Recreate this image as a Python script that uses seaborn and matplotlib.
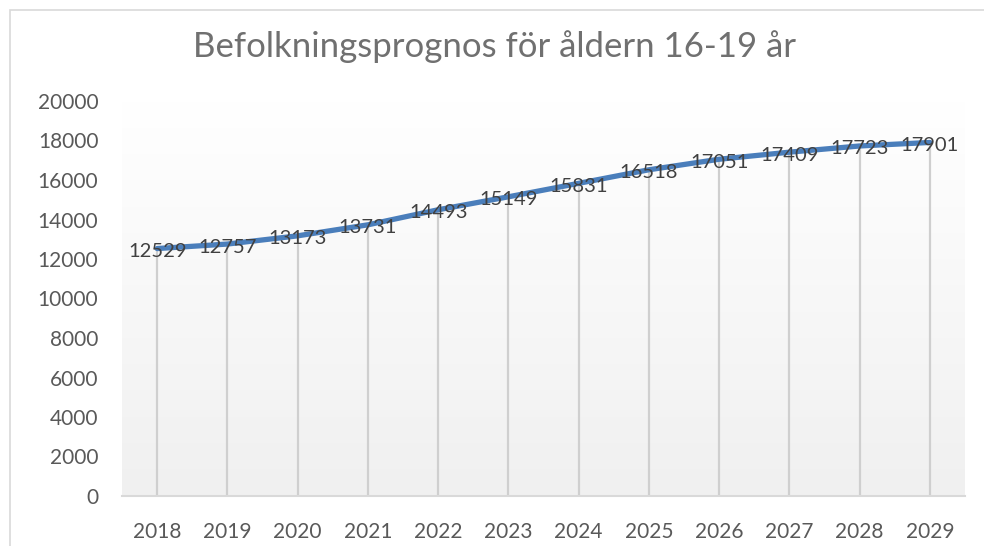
import numpy as np
import pandas as pd
import matplotlib
matplotlib.use("Agg")
import matplotlib.pyplot as plt
from matplotlib.patches import Rectangle
import seaborn as sns

# Chart data
years = ['2018', '2019', '2020', '2021', '2022', '2023',
         '2024', '2025', '2026', '2027', '2028', '2029']
population = [12529, 12757, 13173, 13731, 14493, 15149,
              15831, 16518, 17051, 17409, 17723, 17901]
y_ticks = [0, 2000, 4000, 6000, 8000, 10000, 12000, 14000, 16000, 18000, 20000]

title = "Befolkningsprognos för åldern 16-19 år"

sns.set_style("white")
plt.rcParams['font.family'] = ['Lato', 'DejaVu Sans']

df = pd.DataFrame({'Year': years, 'Population': population})
df['pos'] = np.arange(len(df))

fig = plt.figure(figsize=(9.84, 5.46), dpi=100)
ax = fig.add_axes([122 / 984, 50 / 546, 843 / 984, 395 / 546])

# outer chart border (top/left visible)
fig.patches.append(Rectangle((10 / 984, -0.05), 1.2, (536 / 546) + 0.05,
                             transform=fig.transFigure, fill=False,
                             edgecolor='#d9d9d9', linewidth=1.2))

# gradient background of plot area
grad = np.linspace(0, 1, 256).reshape(-1, 1)
cmap = matplotlib.colors.LinearSegmentedColormap.from_list('bg', ['#ffffff', '#f0f0f0'])
ax.imshow(grad, aspect='auto', cmap=cmap, extent=[-0.5, 11.5, 0, 20000],
          origin='upper', zorder=0)

# drop lines
ax.vlines(df['pos'], 0, df['Population'], color='#cfcfcf', linewidth=1.6, zorder=1)

sns.lineplot(data=df, x='pos', y='Population', ax=ax, color='#4a7ebb',
             linewidth=3.8, zorder=3, solid_capstyle='round')

for p, v in zip(df['pos'], df['Population']):
    ax.text(p, v - 150, str(v), ha='center', va='center', fontsize=14.5,
            color='#404040', zorder=4)

ax.set_xlim(-0.5, 11.5)
ax.set_ylim(0, 20000)
ax.set_xticks(df['pos'])
ax.set_xticklabels(years)
ax.set_yticks(y_ticks)
ax.set_yticklabels([str(t) for t in y_ticks])
ax.tick_params(axis='both', length=0, labelsize=15, labelcolor='#595959')
ax.tick_params(axis='y', pad=17)
ax.tick_params(axis='x', pad=19)
ax.set_xlabel('')
ax.set_ylabel('')

for s in ['top', 'right', 'left']:
    ax.spines[s].set_visible(False)
ax.spines['bottom'].set_color('#d9d9d9')
ax.spines['bottom'].set_linewidth(1.5)

fig.text(494 / 984, 1 - 47 / 546, title, ha='center', va='center',
         fontsize=25, color='#707070')

fig.savefig('out.png', dpi=100)
